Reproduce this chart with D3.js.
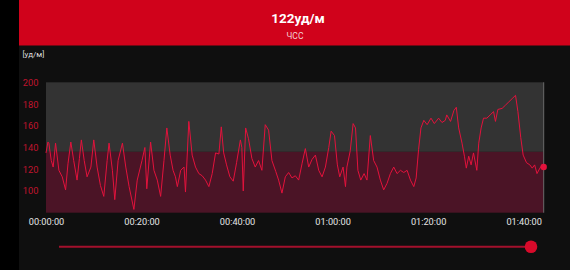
<!DOCTYPE html>
<html>
<head>
<meta charset="utf-8">
<script src="https://cdn.jsdelivr.net/npm/d3@7"></script>
<style>
  html, body { margin: 0; padding: 0; background: #000; }
  svg { display: block; font-family: Roboto, "Noto Sans", sans-serif; }
</style>
</head>
<body>
<svg id="chart" width="570" height="270"></svg>
<script>
// heart rate readings: minute of workout -> bpm
const minutes = [0.0, 0.4, 0.6, 1.1, 1.5, 2.0, 2.7, 3.4, 4.1, 4.6, 5.2, 5.8, 6.5, 7.0, 7.4, 8.0, 8.6, 9.4,
  10.0, 10.7, 11.4, 12.1, 12.8, 13.2, 13.9, 14.4, 15.1, 16.0, 16.7, 17.4, 18.4, 19.1, 20.1, 20.7, 21.1,
  21.9, 22.6, 23.3, 24.0, 24.7, 25.3, 26.0, 26.6, 27.1, 27.5, 28.2, 28.9, 29.2, 29.9, 30.6, 31.3, 32.0,
  32.7, 33.4, 34.1, 34.8, 35.5, 36.2, 36.7, 37.2, 37.8, 38.5, 39.2, 39.9, 40.7, 41.0, 41.3, 41.8, 42.4,
  43.1, 43.8, 44.5, 45.2, 45.9, 46.6, 47.3, 48.1, 48.7, 49.4, 50.1, 50.8, 51.5, 52.2, 52.9, 53.6, 54.3,
  55.0, 55.7, 56.4, 57.1, 57.8, 58.5, 59.2, 59.7, 60.4, 61.0, 61.5, 62.2, 62.7, 63.0, 63.7, 64.3, 64.8,
  65.3, 65.9, 66.6, 67.2, 67.9, 68.6, 69.3, 70.0, 70.7, 71.4, 72.1, 72.8, 73.5, 74.2, 74.9, 75.6, 76.3,
  77.0, 77.5, 78.0, 78.5, 79.1, 79.8, 80.6, 81.3, 82.2, 82.9, 83.6, 83.9, 84.7, 85.4, 85.9, 86.4, 87.1,
  87.6, 88.0, 88.5, 89.0, 89.5, 90.2, 90.6, 91.1, 91.6, 92.3, 93.0, 93.7, 94.1, 94.6, 95.5, 96.2, 96.9,
  97.6, 98.3, 98.8, 99.4, 99.9, 100.6, 101.3, 101.8, 102.3, 102.8, 103.4, 103.9, 104.2]
const bpm = [135, 145, 144, 128, 122, 144, 119, 113, 101, 125, 145, 128, 110, 130, 147, 128, 113, 122,
  147, 122, 105, 95, 128, 144, 119, 92, 128, 144, 122, 104, 83, 110, 128, 140, 102,
  145, 119, 110, 95, 128, 158, 133, 119, 113, 104, 119, 122, 99, 164, 133, 122, 116,
  114, 110, 104, 116, 135, 134, 159, 135, 124, 113, 109, 126, 147, 140, 100, 158, 148,
  130, 122, 128, 119, 161, 156, 128, 118, 110, 98, 113, 117, 112, 114, 110, 125, 139,
  122, 129, 133, 119, 113, 122, 140, 155, 151, 124, 113, 122, 104, 122, 137, 162, 158,
  119, 110, 116, 110, 151, 128, 122, 110, 101, 107, 116, 122, 116, 119, 117, 119, 110,
  104, 112, 138, 158, 165, 161, 167, 162, 167, 163, 165, 170, 164, 174, 177, 158, 144,
  132, 121, 132, 124, 135, 119, 144, 158, 167, 167, 170, 173, 164, 175, 176, 179, 182,
  185, 188, 173, 149, 133, 126, 124, 121, 124, 116, 121, 124, 122]

const yTicks = [100, 120, 140, 160, 180, 200]
const xTicks = [0, 20, 40, 60, 80, 100]
const yDomain = [80, 200]
const xDomain = [0, 104.2]
const zoneTop = 136
const currentBpm = 122
const unitLabel = 'уд/м'
const metricLabel = 'ЧСС'

let fmtTime = m => {
    let h = Math.floor(m / 60), mm = m % 60
    return String(h).padStart(2, '0') + ':' + String(mm).padStart(2, '0') + ':00'
}

let svg = d3.select('#chart')
let data = minutes.map((m, i) => ({x: m, y: bpm[i]}))

let plot = {left: 46, right: 543.7, top: 82.3, bottom: 212.7}

let xScale = d3.scaleLinear().domain(xDomain).range([plot.left, plot.right])
let yScale = d3.scaleLinear().domain(yDomain).range([plot.bottom, plot.top])

// panel + header
svg.append('rect').attr('x', 0).attr('y', 0).attr('width', 570).attr('height', 270).attr('fill', '#000')
svg.append('rect').attr('x', 19).attr('y', 0).attr('width', 551).attr('height', 270).attr('fill', '#0f0f0f')
svg.append('rect').attr('x', 19).attr('y', 0).attr('width', 551).attr('height', 45.5).attr('fill', '#d0021b')

svg.append('text').attr('x', 298).attr('y', 22.5).attr('text-anchor', 'middle')
    .attr('fill', '#fff').style('font-size', '13.5px').style('font-weight', 'bold')
    .text(currentBpm + unitLabel)

svg.append('text').attr('x', 295).attr('y', 38.5).attr('text-anchor', 'middle')
    .attr('fill', '#f2d0d4').style('font-size', '8.5px').text(metricLabel)

svg.append('text').attr('x', 22.5).attr('y', 57).attr('fill', '#ddd')
    .style('font-size', '8px').text('[' + unitLabel + ']')

// background zones
svg.append('rect')
    .attr('x', plot.left).attr('y', yScale(yDomain[1]))
    .attr('width', plot.right - plot.left).attr('height', yScale(zoneTop) - yScale(yDomain[1]))
    .attr('fill', '#333333')
svg.append('rect')
    .attr('x', plot.left).attr('y', yScale(zoneTop))
    .attr('width', plot.right - plot.left).attr('height', yScale(yDomain[0]) - yScale(zoneTop))
    .attr('fill', '#4b1426')

svg.append('line')
    .attr('x1', plot.right).attr('x2', plot.right)
    .attr('y1', plot.top).attr('y2', plot.bottom)
    .attr('stroke', '#6a6a6a').attr('stroke-width', 1)

// y axis labels
let yAxis = d3.axisLeft(yScale).tickValues(yTicks).tickSize(0).tickPadding(0)
let gy = svg.append('g').attr('transform', 'translate(38.5,0)').call(yAxis)
gy.select('.domain').remove()
gy.selectAll('text').attr('fill', '#c0142e').style('font-size', '9.3px').style('font-family', 'Roboto')

// x axis labels
let xAxis = d3.axisBottom(xScale).tickValues(xTicks).tickFormat(fmtTime).tickSize(0).tickPadding(0)
let gx = svg.append('g').attr('transform', 'translate(0,218)').call(xAxis)
gx.select('.domain').remove()
gx.selectAll('text').attr('fill', '#e6e6e6').style('font-size', '9.2px').style('font-family', 'Roboto')

// the line
svg.append('path')
    .datum(data)
    .attr('fill', 'none')
    .attr('stroke', '#e3123c')
    .attr('stroke-width', 1)
    .attr('stroke-linejoin', 'round')
    .attr('d', d3.line().x(d => xScale(d.x)).y(d => yScale(d.y)))

let last = data[data.length - 1]
svg.append('circle')
    .attr('cx', xScale(last.x)).attr('cy', yScale(last.y)).attr('r', 3.2)
    .attr('fill', '#e3123c')

// slider
svg.append('line')
    .attr('x1', 59).attr('x2', 531).attr('y1', 246.7).attr('y2', 246.7)
    .attr('stroke', '#a3102c').attr('stroke-width', 2)
svg.append('circle').attr('cx', 531).attr('cy', 246.7).attr('r', 6.3).attr('fill', '#d80a2a')
</script>
</body>
</html>
